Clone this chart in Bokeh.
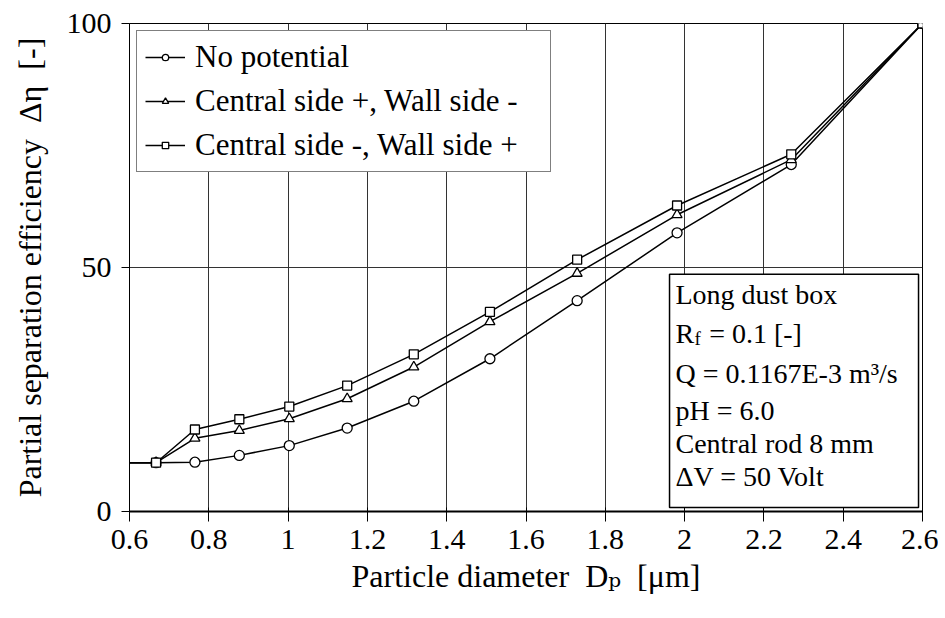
from bokeh.plotting import figure
from bokeh.models import (Range1d, FixedTicker, Legend, LegendItem, Label,
                          BoxAnnotation, CustomJSTickFormatter)
from bokeh.embed import file_html
from bokeh.resources import INLINE

# ---------------- data ----------------
# the curves start on the y axis at 0.6 um (no marker drawn there)
diameter = [0.6, 0.667, 0.765, 0.877, 1.003, 1.149, 1.317, 1.509, 1.729, 1.981, 2.269, 2.6]
no_potential = [10.0, 10.0, 10.1, 11.5, 13.5, 17.1, 22.6, 31.3, 43.2, 57.1, 71.1, 100.0]
central_plus = [10.0, 10.0, 15.0, 16.6, 19.0, 23.1, 29.6, 38.9, 48.8, 60.8, 72.1, 100.0]
central_minus = [10.0, 10.0, 16.8, 18.9, 21.5, 25.8, 32.2, 40.9, 51.6, 62.7, 73.2, 100.0]

series_names = ["No potential", "Central side +, Wall side -", "Central side -, Wall side +"]
series_markers = ["circle", "triangle", "square"]

x_ticks = [0.6, 0.8, 1.0, 1.2, 1.4, 1.6, 1.8, 2.0, 2.2, 2.4, 2.6]
x_tick_labels = ["0.6", "0.8", "1", "1.2", "1.4", "1.6", "1.8", "2", "2.2", "2.4", "2.6"]
y_ticks = [0, 50, 100]

info_lines = ["Long dust box", "R", "Q = 0.1167E-3 m\u00b3/s", "pH = 6.0",
              "Central rod 8 mm", "\u0394V = 50 Volt"]

FONT = "'Liberation Serif', 'DejaVu Serif', 'Times New Roman', Times, serif"
NB2 = "\u00a0\u00a0"

p = figure(width=938, height=616, x_range=Range1d(0.6, 2.6), y_range=Range1d(0, 100),
           output_backend="svg", toolbar_location=None,
           min_border_left=129, min_border_right=16, min_border_top=23, min_border_bottom=105)
p.background_fill_color = "white"
p.border_fill_color = "white"
p.outline_line_color = "black"
p.outline_line_width = 1
p.outline_line_alpha = 1

# axes
p.xaxis.ticker = FixedTicker(ticks=x_ticks)
p.xaxis.formatter = CustomJSTickFormatter(
    args=dict(vals=x_ticks, labs=x_tick_labels),
    code="for (let i = 0; i < vals.length; i++) { if (Math.abs(vals[i] - tick) < 1e-9) return labs[i]; } return '';")
p.yaxis.ticker = FixedTicker(ticks=y_ticks)
p.xgrid.ticker = FixedTicker(ticks=x_ticks)
p.ygrid.ticker = FixedTicker(ticks=y_ticks)
for g in (p.xgrid, p.ygrid):
    g.grid_line_color = "#333333"
    g.grid_line_width = 1
    g.grid_line_alpha = 1

for ax in (p.xaxis, p.yaxis):
    ax.axis_line_color = "black"
    ax.major_tick_line_color = "black"
    ax.minor_tick_line_color = None
    ax.major_label_text_font = FONT
    ax.major_label_text_font_size = "30px"
    ax.major_label_text_color = "black"
    ax.axis_label_text_font = FONT
    ax.axis_label_text_font_style = "normal"
    ax.axis_label_text_color = "black"
    ax.axis_label_text_font_size = "32px"
p.xaxis.axis_line_width = 2
p.yaxis.axis_line_width = 1
p.xaxis.major_tick_in = 4
p.xaxis.major_tick_out = 10
p.yaxis.major_tick_in = 0
p.yaxis.major_tick_out = 8
p.xaxis.major_label_standoff = 8
p.yaxis.major_label_standoff = 10

p.yaxis.axis_label = "Partial separation efficiency" + NB2 + "\u0394\u03b7" + NB2 + "[-]"
p.yaxis.axis_label_standoff = 16
p.xaxis.axis_label = "Particle diameter" + NB2 + "D\u209a" + NB2 + "[\u03bcm]"
p.xaxis.axis_label_standoff = 6

# ---------------- series ----------------
all_series = [no_potential, central_plus, central_minus]
marker_sizes = [10, 10, 9]
items = []
for name, mk, ys, ms in zip(series_names, series_markers, all_series, marker_sizes):
    lr = p.line(diameter, ys, line_color="black", line_width=1.5)
    sr = p.scatter(diameter[1:], ys[1:], marker=mk, size=ms, fill_color="white",
                   line_color="black", line_width=1.3)
    items.append(LegendItem(label=name, renderers=[lr, sr]))

legend = Legend(items=items, location="top_left", margin=7, padding=8, spacing=8,
                glyph_width=40, glyph_height=16, label_height=29, label_width=347,
                label_standoff=10, label_text_font=FONT, label_text_font_size="31px",
                label_text_color="black", border_line_color="black", border_line_width=1.5,
                background_fill_color="white", background_fill_alpha=1)
p.add_layout(legend, "center")

# ---------------- info box ----------------
p.add_layout(BoxAnnotation(left=1.962, right=2.590, bottom=0.8, top=48.6,
                           fill_color="white", fill_alpha=1, line_color="black",
                           line_width=1.5, line_alpha=1))
tx = 1.977
line_y = [44.45, 36.45, 28.25, 20.75, 13.95, 7.15]
for txt, yy in zip(info_lines, line_y):
    p.add_layout(Label(x=tx, y=yy, text=txt, text_baseline="alphabetic", text_font=FONT,
                       text_font_size="28px", text_color="black"))
p.add_layout(Label(x=2.025, y=line_y[1] - 1.1, text="f", text_baseline="alphabetic",
                   text_font=FONT, text_font_size="19px", text_color="black"))
p.add_layout(Label(x=2.062, y=line_y[1], text="= 0.1 [-]", text_baseline="alphabetic",
                   text_font=FONT, text_font_size="28px", text_color="black"))

open("out.html", "w").write(file_html(p, INLINE))
